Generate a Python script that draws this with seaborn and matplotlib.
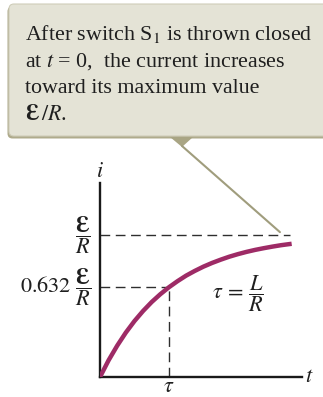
import matplotlib
matplotlib.use("Agg")
import matplotlib.pyplot as plt
import seaborn as sns
import pandas as pd
from matplotlib.patches import FancyBboxPatch, Polygon

# Current growth in an RL circuit: i in units of E/R, t in units of tau = L/R
t_vals = [0.0, 0.125, 0.25, 0.375, 0.5, 0.625, 0.75, 0.875, 1.0, 1.125, 1.25,
          1.375, 1.5, 1.625, 1.75, 1.875, 2.0, 2.125, 2.25, 2.375, 2.5, 2.625,
          2.78]
i_vals = [0.0, 0.118, 0.221, 0.313, 0.394, 0.465, 0.528, 0.583, 0.632, 0.675,
          0.714, 0.747, 0.777, 0.803, 0.826, 0.847, 0.865, 0.881, 0.895, 0.907,
          0.918, 0.928, 0.938]
tau = 1.0
i_max = 1.0
i_tau = 0.632
EMF = r"\mathbf{Ɛ}"
callout_lines = [
    "After switch S$_1$ is thrown closed",
    "at $t$ = 0,  the current increases",
    "toward its maximum value",
    "$" + EMF + r"\,/R$.",
]

sns.set_theme(style="white")
plt.rcParams["font.family"] = ["Liberation Serif", "DejaVu Serif"]
plt.rcParams["mathtext.fontset"] = "stix"

W, H = 323, 397
fig = plt.figure(figsize=(W / 100, H / 100), dpi=100, facecolor="white")

# pixel-space layer for the callout
ov = fig.add_axes([0, 0, 1, 1], zorder=0)
ov.set_xlim(0, W)
ov.set_ylim(H, 0)
ov.axis("off")

shadow = FancyBboxPatch((7.5, 6.5), 330, 132, boxstyle="round,pad=0,rounding_size=5",
                        facecolor="#afab8c", edgecolor="none")
box = FancyBboxPatch((9, 4), 330, 132, boxstyle="round,pad=0,rounding_size=5",
                     facecolor="#e4e3d6", edgecolor="#cfcdb9", lw=0.8)
ov.add_patch(shadow)
ov.add_patch(box)
ov.add_patch(Polygon([(170, 137), (193, 137), (182, 147)], closed=True,
                     facecolor="#a9a584", edgecolor="none"))
for k, line in enumerate(callout_lines):
    ov.text(25, 40 + 26.7 * k, line, fontsize=15.8, color="#1f1f1f",
            ha="left", va="baseline")

# main plot axes
x_hi, y_hi = 2.93, 1.366
ax = fig.add_axes([100 / W, 20 / H, 202 / W, 194 / H], zorder=1)
ax.set_facecolor("none")

df = pd.DataFrame({"t": t_vals, "i": i_vals})
sns.lineplot(data=df, x="t", y="i", ax=ax, color="#9e2b66", lw=3.2,
             solid_capstyle="butt", zorder=3)

dash = dict(color="#2e2e2e", lw=1.0, linestyle=(0, (7, 4)), zorder=2)
ax.plot([0, 2.76], [i_max, i_max], **dash)
ax.plot([0, tau], [i_tau, i_tau], **dash)
ax.plot([tau, tau], [0, i_tau], **dash)

ax.set_xlim(0, x_hi)
ax.set_ylim(0, y_hi)
ax.set_xticks([])
ax.set_yticks([])
ax.set_xlabel("")
ax.set_ylabel("")
for side in ("top", "right"):
    ax.spines[side].set_visible(False)
for side in ("left", "bottom"):
    ax.spines[side].set_color("#1a1a1a")
    ax.spines[side].set_linewidth(1.7)

lab = dict(fontsize=16, color="#1f1f1f", clip_on=False)
frac = r"\dfrac{" + EMF + "}{R}"
ax.text(-0.13, i_max, "$" + frac + "$", ha="right", va="center", **lab)
ax.text(-0.13, i_tau, "$0.632\\ " + frac + "$", ha="right", va="center", **lab)
ax.text(2.0, 0.59, r"$\tau\, =\, \dfrac{L}{R}$", ha="center", va="center", **lab)
ax.text(0, 1.44, "$i$", ha="center", va="center", **lab)
ax.text(3.04, 0.0, "$t$", ha="center", va="center", **lab)
ax.text(tau, -0.072, r"$\tau$", ha="center", va="center", **lab)

# pointer from the callout to the asymptote
ax.annotate("", xy=(2.61, 1.02), xycoords="data",
            xytext=(182, 146), textcoords=ov.transData,
            arrowprops=dict(arrowstyle="-", color="#a09d7d", lw=1.5,
                            shrinkA=0, shrinkB=0))

fig.savefig("out.png", dpi=100, facecolor="white")
